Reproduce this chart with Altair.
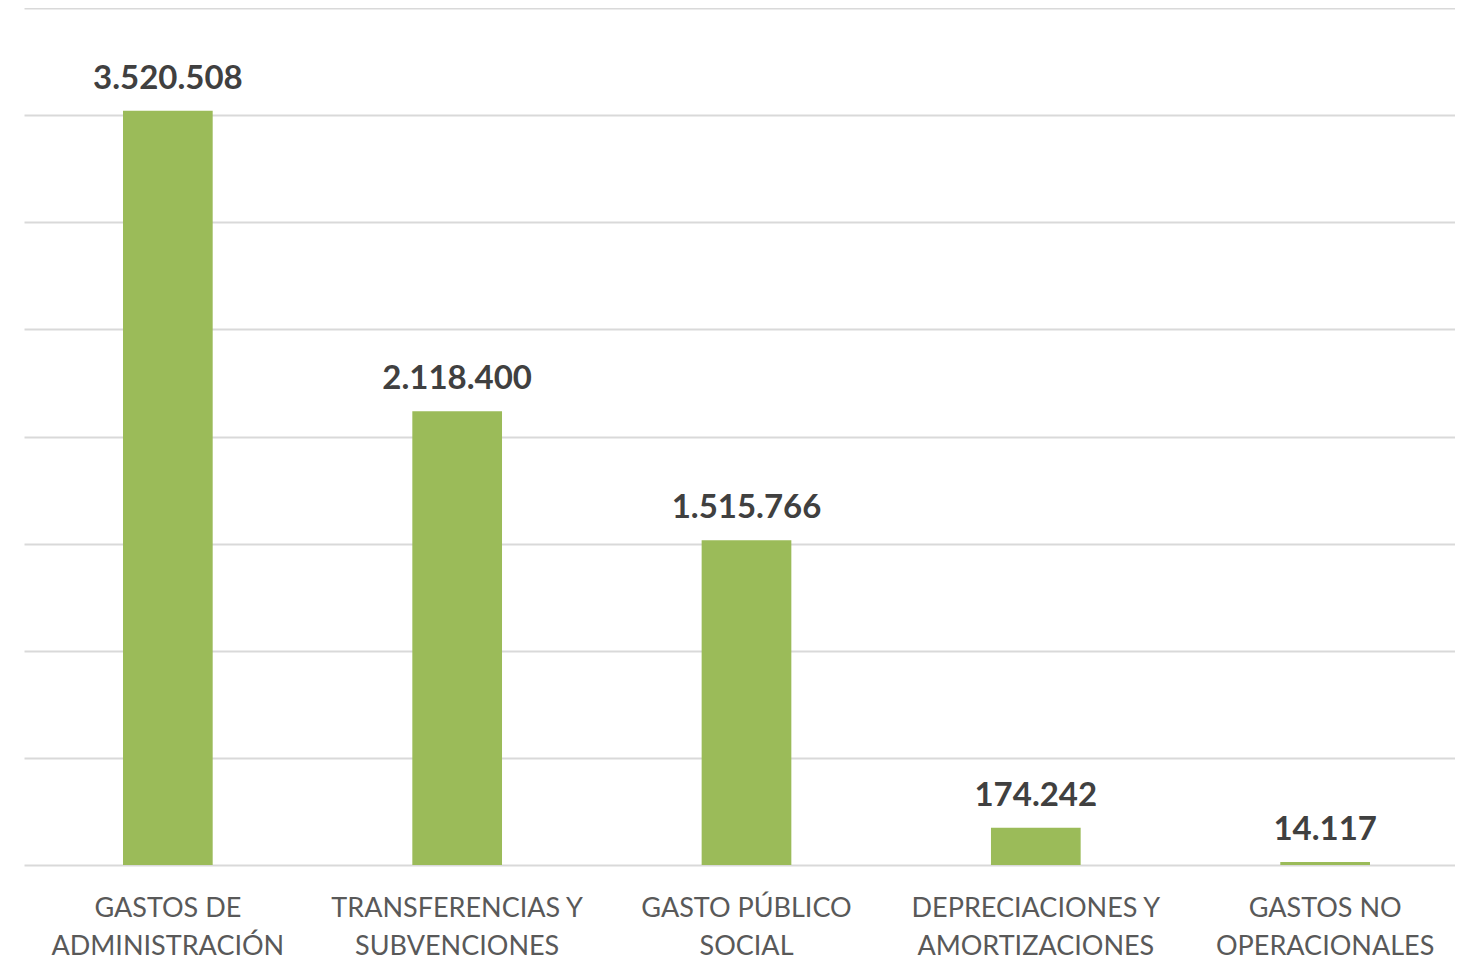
import altair as alt
import pandas as pd

categories = [
    "GASTOS DE|ADMINISTRACIÓN",
    "TRANSFERENCIAS Y|SUBVENCIONES",
    "GASTO PÚBLICO|SOCIAL",
    "DEPRECIACIONES Y|AMORTIZACIONES",
    "GASTOS NO|OPERACIONALES",
]
values = [3520508, 2118400, 1515766, 174242, 14117]
value_labels = ["3.520.508", "2.118.400", "1.515.766", "174.242", "14.117"]
grid_values = [0, 500000, 1000000, 1500000, 2000000, 2500000, 3000000, 3500000, 4000000]

df = pd.DataFrame({"cat": categories, "val": values, "lbl": value_labels})

x = alt.X(
    "cat:N",
    sort=categories,
    title=None,
    scale=alt.Scale(paddingInner=0.69, paddingOuter=0.318, align=0.538),
    axis=alt.Axis(
        labelExpr="split(datum.value, '|')",
        labelAngle=0,
        labelFont="Lato",
        labelFontSize=27,
        labelColor="#595959",
        labelLineHeight=38,
        labelPadding=30,
        labelBaseline="top",
        labelLimit=0,
        domain=False,
        ticks=False,
        grid=False,
    ),
)
y = alt.Y(
    "val:Q",
    title=None,
    scale=alt.Scale(domain=[0, 4000000], nice=False),
    axis=alt.Axis(
        values=grid_values,
        labels=False,
        ticks=False,
        domain=False,
        grid=True,
        gridColor="#d9d9d9",
        gridWidth=2,
    ),
)

bars = alt.Chart(df).mark_bar(color="#9bbb59").encode(x=x, y=y)
text = alt.Chart(df).mark_text(
    font="Lato", fontSize=33, fontWeight="bold", color="#404040",
    baseline="alphabetic", dy=-22,
).encode(x=alt.X("cat:N", sort=categories), y="val:Q", text="lbl:N")

chart = (bars + text).properties(
    width=1431, height=857,
    padding={"left": 16, "top": 0, "right": 0, "bottom": 0},
).configure_view(stroke=None)

chart.save("out.html", embed_options={"renderer": "svg", "actions": False})
